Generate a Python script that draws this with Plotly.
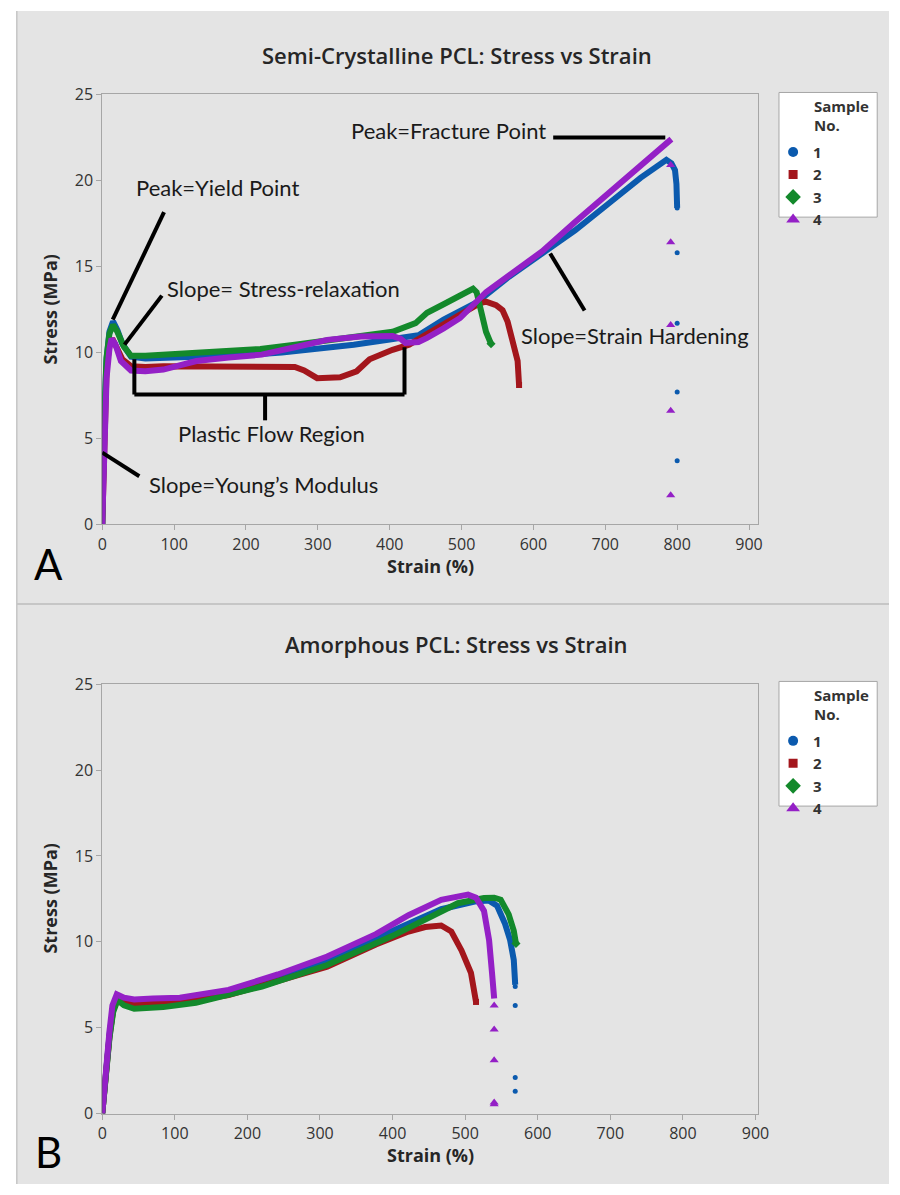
import plotly.graph_objects as go

W, H = 900, 1195

# ---------------- Panel A: Semi-Crystalline PCL ----------------
samples = ["1", "2", "3", "4"]
colors = ["#0b5aae", "#a3161c", "#13892b", "#9420c6"]
symbols = ["circle", "square", "diamond", "triangle-up"]

a1_x = [0, 1, 3, 6, 10, 15, 21, 28, 40, 60, 100, 150, 200, 250, 300, 350, 400, 440, 475, 500, 521, 566, 612, 658, 703, 749, 785, 792, 797, 799, 800]
a1_y = [0, 2.5, 6.5, 9.6, 11.2, 11.8, 11.3, 10.5, 9.75, 9.65, 9.7, 9.75, 9.85, 10.0, 10.2, 10.45, 10.75, 11.0, 11.9, 12.4, 12.9, 14.4, 15.7, 17.1, 18.6, 20.15, 21.2, 21.0, 20.6, 19.8, 18.4]
a1_fx = [800, 800, 800, 800, 800]
a1_fy = [18.4, 15.8, 11.7, 7.7, 3.7]

a2_x = [0, 1, 3, 6, 10, 14, 20, 28, 40, 60, 85, 130, 176, 222, 268, 281, 299, 331, 354, 372, 404, 427, 452, 498, 525, 534, 548, 557, 564, 571, 578, 580]
a2_y = [0, 2.2, 6.0, 9.0, 10.5, 10.8, 10.3, 9.6, 9.2, 9.15, 9.2, 9.2, 9.2, 9.2, 9.15, 8.95, 8.5, 8.55, 8.9, 9.6, 10.15, 10.45, 11.1, 12.2, 12.85, 12.95, 12.75, 12.45, 11.8, 10.8, 9.5, 8.1]
a2_fx = [580]
a2_fy = [8.1]

a3_x = [0, 1, 3, 6, 10, 15, 21, 30, 40, 60, 85, 130, 176, 220, 268, 313, 359, 404, 436, 452, 475, 502, 516, 521, 527, 534, 541]
a3_y = [0, 2.5, 6.8, 9.7, 11.1, 11.6, 11.2, 10.35, 9.8, 9.8, 9.85, 9.95, 10.05, 10.2, 10.45, 10.7, 10.92, 11.2, 11.7, 12.3, 12.8, 13.4, 13.7, 13.5, 12.4, 11.2, 10.5]
a3_fx = [541]
a3_fy = [10.5]

a4_x = [0, 1, 3, 6, 10, 13, 18, 26, 40, 60, 85, 131, 176, 222, 268, 313, 359, 404, 415, 422, 440, 452, 475, 498, 534, 566, 612, 658, 703, 749, 792]
a4_y = [0, 2.0, 5.5, 8.5, 10.2, 10.8, 10.5, 9.5, 8.95, 8.9, 9.0, 9.5, 9.7, 9.87, 10.3, 10.73, 10.92, 10.95, 10.8, 10.55, 10.6, 10.84, 11.4, 12.0, 13.5, 14.44, 15.87, 17.58, 19.2, 20.8, 22.4]
a4_fx = [791, 791, 791, 791, 791]
a4_fy = [20.9, 16.4, 11.6, 6.6, 1.7]

# ---------------- Panel B: Amorphous PCL ----------------
b1_x = [0, 5, 10, 15, 21, 30, 45, 70, 107, 174, 242, 310, 377, 422, 467, 513, 533, 544, 555, 562, 567, 569]
b1_y = [0, 2.7, 4.6, 6.1, 6.7, 6.55, 6.45, 6.45, 6.5, 7.0, 7.85, 8.95, 10.2, 11.1, 11.9, 12.35, 12.4, 12.1, 11.05, 10.1, 8.95, 7.5]
b1_fx = [569, 569, 569, 569]
b1_fy = [7.4, 6.3, 2.1, 1.3]

b2_x = [0, 5, 10, 15, 21, 30, 45, 70, 107, 174, 242, 310, 377, 422, 445, 467, 481, 495, 508, 515]
b2_y = [0, 2.6, 4.5, 6.0, 6.7, 6.5, 6.4, 6.4, 6.45, 6.9, 7.75, 8.55, 9.85, 10.6, 10.86, 10.95, 10.6, 9.5, 8.2, 6.5]
b2_fx = [515]
b2_fy = [6.5]

b3_x = [0, 5, 10, 15, 21, 30, 44, 84, 129, 220, 310, 400, 445, 490, 526, 540, 549, 560, 567, 570]
b3_y = [0, 2.5, 4.4, 5.9, 6.6, 6.3, 6.1, 6.2, 6.45, 7.4, 8.65, 10.35, 11.3, 12.25, 12.55, 12.57, 12.45, 11.6, 10.65, 9.9]
b3_fx = [570]
b3_fy = [9.9]

b4_x = [0, 5, 10, 14, 20, 30, 44, 70, 107, 174, 242, 310, 377, 422, 467, 504, 515, 526, 533, 537, 540]
b4_y = [0, 2.9, 4.8, 6.3, 6.95, 6.75, 6.65, 6.7, 6.75, 7.2, 8.1, 9.15, 10.45, 11.55, 12.45, 12.75, 12.57, 11.8, 10.1, 8.2, 6.7]
b4_fx = [540, 540, 540, 540, 540]
b4_fy = [6.3, 4.9, 3.1, 0.65, 0.55]

x_ticks = [0, 100, 200, 300, 400, 500, 600, 700, 800, 900]
y_ticks = [0, 5, 10, 15, 20, 25]

panelA = [(a1_x, a1_y, a1_fx, a1_fy), (a2_x, a2_y, a2_fx, a2_fy), (a3_x, a3_y, a3_fx, a3_fy), (a4_x, a4_y, a4_fx, a4_fy)]
panelB = [(b1_x, b1_y, b1_fx, b1_fy), (b2_x, b2_y, b2_fx, b2_fy), (b3_x, b3_y, b3_fx, b3_fy), (b4_x, b4_y, b4_fx, b4_fy)]

fig = go.Figure()
plot_msize = [5, 6, 7, 8]
legend_msize = [10, 9, 12, 12]
for panel, xa, ya, lg in [(panelA, "x", "y", "legend"), (panelB, "x2", "y2", "legend2")]:
    for i, (cx, cy, fx, fy) in enumerate(panel):
        fig.add_trace(go.Scatter(x=cx, y=cy, mode="lines", line=dict(color=colors[i], width=6),
                                 showlegend=False, xaxis=xa, yaxis=ya, hoverinfo="skip"))
        fig.add_trace(go.Scatter(x=fx, y=fy, mode="markers",
                                 marker=dict(color=colors[i], symbol=symbols[i], size=plot_msize[i]),
                                 name=samples[i], showlegend=False, legendgroup=lg + samples[i],
                                 xaxis=xa, yaxis=ya))
        # legend key entry (symbol only)
        fig.add_trace(go.Scatter(x=[None], y=[None], mode="markers",
                                 marker=dict(color=colors[i], symbol=symbols[i], size=legend_msize[i]),
                                 name=samples[i], legend=lg, legendgroup=lg + samples[i],
                                 xaxis=xa, yaxis=ya, hoverinfo="skip"))

def px(v):
    return v / W

def py(v):
    return 1 - v / H

AX_FONT = "Open Sans"
TXT_FONT = "Lato"
axis_common = dict(showgrid=False, zeroline=False, ticks="outside", ticklen=5, tickcolor="#a6a6a6",
                   linecolor="#a6a6a6", linewidth=1, mirror=True, showline=True,
                   tickfont=dict(family=AX_FONT, size=16, color="#333333"))

leg_font = dict(family=AX_FONT, size=15, color="#333333", weight=700)
fig.update_layout(
    width=W, height=H, margin=dict(l=0, r=0, t=0, b=0),
    paper_bgcolor="white", plot_bgcolor="white",
    xaxis=dict(domain=[px(99), px(767)], range=[0, 913], anchor="y", tickvals=x_ticks, **axis_common),
    yaxis=dict(domain=[py(523), py(85)], range=[0, 25], anchor="x", tickvals=y_ticks, **axis_common),
    xaxis2=dict(domain=[px(99), px(767)], range=[0, 904], anchor="y2", tickvals=x_ticks, **axis_common),
    yaxis2=dict(domain=[py(1123.3), py(685.8)], range=[0, 25], anchor="x2", tickvals=y_ticks, **axis_common),
    legend=dict(x=px(782), y=py(127), xanchor="left", yanchor="top", bgcolor="rgba(0,0,0,0)",
                borderwidth=0, itemsizing="trace", itemwidth=30, tracegroupgap=0, font=leg_font,
                itemclick=False, itemdoubleclick=False),
    legend2=dict(x=px(782), y=py(727), xanchor="left", yanchor="top", bgcolor="rgba(0,0,0,0)",
                 borderwidth=0, itemsizing="trace", itemwidth=30, tracegroupgap=0, font=leg_font,
                 itemclick=False, itemdoubleclick=False),
    showlegend=True,
)

shapes = []
# panel backgrounds
shapes.append(dict(type="rect", xref="paper", yref="paper", x0=px(12), x1=1, y0=py(603), y1=1,
                   fillcolor="#e4e4e4", line=dict(width=0), layer="below"))
shapes.append(dict(type="rect", xref="paper", yref="paper", x0=px(12), x1=1, y0=0, y1=py(605),
                   fillcolor="#e4e4e4", line=dict(width=0), layer="below"))
shapes.append(dict(type="line", xref="paper", yref="paper", x0=px(12), x1=1, y0=py(604), y1=py(604),
                   line=dict(color="#c6c6c6", width=2)))
shapes.append(dict(type="line", xref="paper", yref="paper", x0=px(12), x1=px(12), y0=0, y1=1,
                   line=dict(color="#c6c6c6", width=1.5)))
# legend boxes
for top, bot in [(83, 210), (683, 810)]:
    shapes.append(dict(type="rect", xref="paper", yref="paper", x0=px(788), x1=px(888), y0=py(bot), y1=py(top),
                       fillcolor="white", line=dict(color="#a6a6a6", width=1), layer="below"))

blk = dict(color="black", width=4)
ann_lines = [
    (14.6, 11.9, 86, 18.15),      # yield point
    (31, 10.45, 83, 13.3),        # stress relaxation
    (44.7, 9.6, 44.7, 7.55),      # bracket left
    (44.7, 7.55, 420.6, 7.55),    # bracket bottom
    (420.6, 10.3, 420.6, 7.55),   # bracket right
    (226.6, 7.55, 226.6, 6.05),   # bracket tick
    (0, 4.17, 51.6, 2.8),         # Young's modulus
    (627.5, 22.49, 783.5, 22.49), # fracture
    (623.3, 15.75, 671.2, 12.44), # strain hardening
]
for x0, y0, x1, y1 in ann_lines:
    shapes.append(dict(type="line", xref="x", yref="y", x0=x0, y0=y0, x1=x1, y1=y1, line=blk))
fig.update_layout(shapes=shapes)

anns = []
tfont = dict(family=TXT_FONT, size=22, color="#1a1a1a")
for text, x, y, xa in [
    ("Peak=Yield Point", 44.7, 19.58, "left"),
    ("Slope= Stress-relaxation", 87.2, 13.7, "left"),
    ("Plastic Flow Region", 236, 5.3, "center"),
    ("Slope=Young\u2019s Modulus", 62.5, 2.34, "left"),
    ("Peak=Fracture Point", 620.6, 22.89, "right"),
    ("Slope=Strain Hardening", 579.5, 11.0, "left"),
]:
    anns.append(dict(text=text, x=x, y=y, xref="x", yref="y", xanchor=xa, yanchor="middle",
                     showarrow=False, font=tfont))

title_font = dict(family=AX_FONT, size=22, color="#262626", weight=600)
lab_font = dict(family=AX_FONT, size=18, color="#262626", weight=700)
anns += [
    dict(text="Semi-Crystalline PCL: Stress vs Strain", x=px(460), y=py(45), xref="paper", yref="paper",
         showarrow=False, font=title_font, xanchor="center", yanchor="middle"),
    dict(text="Amorphous PCL: Stress vs Strain", x=px(460), y=py(645), xref="paper", yref="paper",
         showarrow=False, font=title_font, xanchor="center", yanchor="middle"),
    dict(text="Strain (%)", x=px(433), y=py(565), xref="paper", yref="paper", showarrow=False,
         font=lab_font, xanchor="center", yanchor="middle"),
    dict(text="Strain (%)", x=px(433), y=py(1165), xref="paper", yref="paper", showarrow=False,
         font=lab_font, xanchor="center", yanchor="middle"),
    dict(text="Stress (MPa)", x=px(46), y=py(304), xref="paper", yref="paper", showarrow=False,
         font=lab_font, textangle=-90, xanchor="center", yanchor="middle"),
    dict(text="Stress (MPa)", x=px(46), y=py(904), xref="paper", yref="paper", showarrow=False,
         font=lab_font, textangle=-90, xanchor="center", yanchor="middle"),
    dict(text="A", x=px(44), y=py(563), xref="paper", yref="paper", showarrow=False,
         font=dict(family=TXT_FONT, size=42, color="black"), xanchor="center", yanchor="middle"),
    dict(text="B", x=px(44), y=py(1162), xref="paper", yref="paper", showarrow=False,
         font=dict(family=TXT_FONT, size=42, color="black"), xanchor="center", yanchor="middle"),
]
for top in [97, 697]:
    anns.append(dict(text="Sample", x=px(822), y=py(top), xref="paper", yref="paper", showarrow=False,
                     font=leg_font, xanchor="left", yanchor="middle"))
    anns.append(dict(text="No.", x=px(822), y=py(top + 19), xref="paper", yref="paper", showarrow=False,
                     font=leg_font, xanchor="left", yanchor="middle"))
fig.update_layout(annotations=anns)

fig.write_html("out.html", config={"displayModeBar": False},
               post_script="document.body.style.margin='0';document.body.style.overflow='hidden';")
